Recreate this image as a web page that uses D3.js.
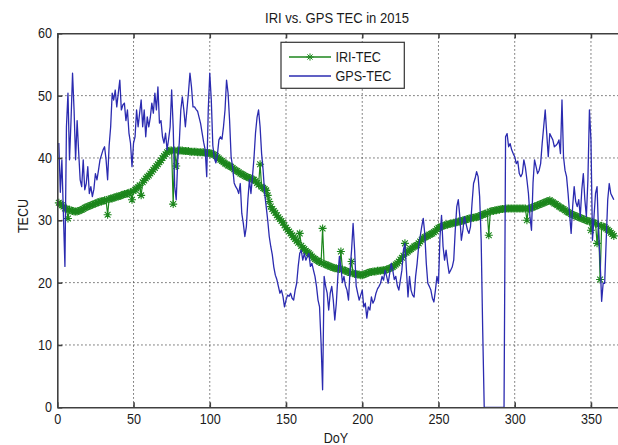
<!DOCTYPE html>
<html lang="en">
    <head>
        <meta charset="utf-8">
        <script type="text/javascript" src="https://cdn.jsdelivr.net/npm/d3@7"></script>
        <style type="text/css">
            body {
              margin: 0;
              background: #ffffff;
            }

            text {
              font-family: "Liberation Sans", Arial, sans-serif;
              fill: #1a1a1a;
            }

            .axis path,
            .axis line {
              stroke: #404040;
              stroke-width: 1.6;
            }

            .grid line {
              stroke: #4a4a4a;
              stroke-width: 1;
              stroke-dasharray: 1.3, 2.7;
            }
        </style>
    </head>
    <body>
        <script type="text/javascript">
            // day of year 1 .. 365
            var doy = d3.range(1, 366);

            // IRI modelled TEC per day
            var iriTec = [
              32.8, 32.6, 32.4, 32.2, 31.9, 31.9, 30.3, 31.7, 31.6, 31.5,
              31.4, 31.4, 31.4, 31.5, 31.6, 31.7, 31.8, 32.0, 32.1, 32.2,
              32.3, 32.4, 32.5, 32.6, 32.7, 32.8, 32.9, 33.0, 33.0, 33.1,
              33.2, 33.2, 30.9, 33.4, 33.5, 33.5, 33.6, 33.7, 33.8, 33.8,
              33.9, 34.0, 34.1, 34.2, 34.2, 34.3, 34.4, 34.5, 33.3, 34.7,
              34.9, 35.1, 35.3, 35.6, 34.0, 36.1, 36.4, 36.7, 37.0, 37.2,
              37.5, 37.8, 38.1, 38.4, 38.7, 39.0, 39.3, 39.6, 40.0, 40.3,
              40.6, 40.9, 41.1, 41.2, 41.2, 32.6, 41.2, 38.7, 41.2, 41.2,
              41.2, 41.2, 41.1, 41.1, 41.1, 41.1, 41.0, 41.0, 41.0, 41.0,
              41.0, 40.9, 40.9, 40.9, 40.9, 40.9, 40.8, 40.8, 40.8, 40.8,
              40.7, 40.6, 40.5, 40.3, 40.1, 39.9, 39.7, 39.5, 39.3, 39.1,
              39.0, 38.8, 38.7, 38.6, 38.4, 38.2, 38.0, 37.9, 37.7, 37.5,
              37.4, 37.3, 37.1, 37.0, 36.9, 36.8, 36.7, 36.6, 36.5, 36.3,
              36.0, 35.7, 39.0, 35.4, 35.2, 35.0, 34.8, 34.0, 33.0, 32.2,
              31.8, 31.5, 31.2, 30.8, 30.5, 30.2, 29.9, 29.6, 29.2, 28.8,
              28.5, 28.2, 27.9, 27.6, 27.3, 27.0, 26.7, 26.4, 27.9, 25.9,
              25.6, 25.4, 25.1, 24.9, 24.7, 24.5, 24.2, 24.0, 23.8, 23.6,
              23.5, 23.3, 23.2, 28.7, 23.0, 22.9, 22.8, 22.7, 22.6, 22.5,
              22.4, 22.3, 22.3, 22.2, 22.2, 25.0, 22.1, 22.0, 21.9, 21.8,
              21.7, 21.6, 23.4, 21.5, 21.4, 21.4, 21.3, 21.3, 21.2, 21.2,
              21.3, 21.4, 21.5, 21.6, 21.7, 21.7, 21.8, 21.8, 21.8, 21.9,
              21.9, 21.9, 22.0, 22.0, 22.0, 22.1, 22.2, 22.3, 22.4, 22.5,
              22.7, 22.9, 23.1, 23.4, 23.7, 24.0, 24.3, 26.3, 24.8, 25.0,
              25.2, 25.4, 25.6, 25.8, 25.9, 26.0, 26.3, 26.6, 26.9, 27.1,
              27.3, 27.4, 27.5, 27.7, 27.8, 27.9, 28.1, 28.3, 28.6, 28.8,
              28.9, 29.0, 29.1, 29.2, 29.3, 29.3, 29.4, 29.5, 29.5, 29.6,
              29.6, 29.7, 29.8, 29.8, 29.9, 30.0, 30.0, 30.1, 30.2, 30.3,
              30.3, 30.4, 30.4, 30.5, 30.5, 30.6, 30.7, 30.8, 30.9, 31.0,
              31.1, 31.2, 27.6, 31.4, 31.5, 31.5, 31.6, 31.6, 31.7, 31.7,
              31.8, 31.8, 31.8, 31.9, 31.9, 31.9, 31.9, 31.9, 31.9, 31.9,
              31.9, 31.9, 31.9, 31.9, 31.9, 31.9, 31.9, 30.0, 31.9, 31.9,
              32.0, 32.1, 32.2, 32.3, 32.4, 32.5, 32.6, 32.7, 32.8, 32.9,
              33.0, 33.1, 33.2, 33.0, 32.9, 32.7, 32.6, 32.4, 32.2, 32.1,
              31.9, 31.8, 31.6, 31.4, 31.3, 31.2, 31.0, 30.9, 30.8, 30.7,
              30.6, 30.5, 30.4, 30.3, 30.2, 30.1, 30.0, 29.9, 29.8, 28.4,
              29.7, 29.6, 29.5, 26.3, 29.3, 20.5, 29.1, 29.0, 28.9, 28.7,
              28.5, 28.3, 28.0, 27.8, 27.5
            ];

            // GPS measured TEC per day
            var gpsTec = [
              42.4, 34.5, 39.7, 31.0, 22.6, 45.0, 50.4, 39.7, 46.0, 53.6,
              47.7, 39.7, 46.0, 41.0, 36.5, 35.4, 39.7, 34.9, 35.9, 38.6,
              34.3, 35.4, 33.8, 35.0, 37.5, 36.5, 38.0, 39.7, 40.5, 41.3,
              41.8, 39.7, 36.5, 42.0, 45.0, 50.4, 49.3, 50.9, 48.2, 50.4,
              52.5, 47.7, 48.5, 48.8, 46.0, 47.7, 44.0, 42.4, 38.6, 42.4,
              43.4, 47.7, 45.0, 47.2, 49.3, 45.0, 47.7, 43.4, 46.6, 45.0,
              46.5, 48.8, 47.2, 50.4, 47.7, 51.4, 45.6, 46.0, 43.4, 42.4,
              44.0, 41.3, 43.0, 45.0, 50.9, 45.0, 35.4, 33.3, 39.7, 42.4,
              47.7, 49.8, 47.7, 45.0, 47.7, 50.4, 53.6, 51.4, 48.2, 48.2,
              47.8, 47.5, 46.5, 45.5, 44.0, 42.5, 41.3, 37.0, 47.7, 53.6,
              49.3, 42.0, 40.0, 39.2, 40.5, 42.9, 43.4, 43.0, 45.0, 47.7,
              52.5, 50.4, 46.0, 40.2, 38.5, 36.0, 35.4, 35.0, 34.3, 35.9,
              31.1, 29.5, 27.4, 29.0, 33.3, 36.5, 34.3, 37.0, 40.0, 44.0,
              46.5, 47.7, 45.0, 40.7, 38.0, 34.3, 32.2, 30.0, 27.4, 25.8,
              24.5, 22.5, 21.2, 20.5, 19.4, 18.3, 18.8, 17.8, 16.1, 17.2,
              18.0, 17.8, 18.3, 17.5, 17.2, 18.8, 19.9, 22.6, 24.7, 25.2,
              23.6, 24.7, 23.6, 24.2, 24.7, 22.6, 23.1, 22.0, 21.0, 19.4,
              17.2, 16.1, 10.3, 2.8, 21.0, 19.4, 18.3, 15.6, 18.3, 19.4,
              17.2, 14.0, 16.7, 21.0, 24.2, 22.5, 20.0, 21.0, 19.5, 18.8,
              17.2, 22.0, 25.2, 29.5, 25.2, 19.5, 18.3, 17.2, 18.0, 18.8,
              16.1, 16.7, 14.3, 16.1, 15.6, 17.7, 16.7, 17.2, 18.3, 19.0,
              19.4, 19.9, 21.0, 20.4, 22.0, 21.0, 19.9, 21.5, 23.1, 22.0,
              20.5, 21.0, 19.5, 18.8, 20.4, 22.0, 25.2, 26.3, 22.0, 17.7,
              21.0, 18.8, 18.0, 17.7, 21.0, 23.1, 25.8, 27.4, 29.0, 30.3,
              27.9, 23.1, 19.9, 19.4, 18.8, 17.5, 16.9, 18.8, 21.0, 19.9,
              27.4, 30.8, 25.8, 23.6, 25.2, 23.1, 21.5, 22.0, 22.5, 23.6,
              28.4, 32.2, 33.3, 30.6, 26.8, 28.4, 30.6, 29.5, 28.5, 27.9,
              29.0, 32.7, 35.9, 36.7, 37.8, 37.0, 33.8, 26.8, 12.4, 0.0,
              0.0, 0.0, 0.0, 0.0, 0.0, 0.0, 0.0, 0.0, 0.0, 0.0,
              0.0, 0.0, 0.0, 43.4, 43.9, 41.8, 42.3, 41.3, 40.7, 40.2,
              39.1, 39.5, 37.5, 37.0, 37.5, 39.7, 38.5, 36.5, 34.3, 30.6,
              28.4, 36.0, 39.7, 38.6, 37.5, 38.0, 39.1, 42.3, 45.0, 47.7,
              43.9, 40.2, 43.9, 43.4, 42.9, 41.8, 42.0, 42.3, 42.9, 40.7,
              49.3, 40.2, 38.0, 37.0, 34.3, 31.0, 27.9, 32.2, 35.4, 33.0,
              32.2, 33.3, 30.6, 34.9, 37.5, 33.3, 30.6, 36.5, 47.7, 42.9,
              26.8, 30.6, 34.3, 35.4, 27.9, 23.6, 17.0, 19.9, 19.9, 26.8,
              33.3, 35.9, 34.3, 33.8, 33.3
            ];

            var xTicks = [0, 50, 100, 150, 200, 250, 300, 350];
            var yTicks = [0, 10, 20, 30, 40, 50, 60];
            var seriesNames = ["IRI-TEC", "GPS-TEC"];
            var seriesColors = ["#1c861c", "#2b2bb0"];

            var w = 618, h = 445;
            var textScale = 0.9;

            // scales, right edge of the box falls just outside the picture
            var x = d3.scaleLinear().domain([0, 368]).range([57.3, 618.4]);
            var y = d3.scaleLinear().domain([0, 60]).range([407.3, 33.3]);

            var svg = d3.select("body")
              .append("svg")
              .attr("width", w)
              .attr("height", h);

            // helper for the slightly narrow matlab text
            function label(px, py, str, anchor, size, rot) {
              return svg.append("text")
                .attr("transform", "translate(" + px + "," + py + ")" +
                  (rot ? " rotate(" + rot + ")" : "") + " scale(" + textScale + ",1)")
                .attr("text-anchor", anchor)
                .attr("font-size", size)
                .text(str);
            }

            // dotted grid
            svg.append("g")
              .attr("class", "grid")
              .selectAll("line.v")
              .data(xTicks.filter(function(d) { return d > 0; }))
              .enter()
              .append("line")
              .attr("x1", function(d) { return x(d); })
              .attr("x2", function(d) { return x(d); })
              .attr("y1", y(60))
              .attr("y2", y(0));

            svg.select(".grid")
              .selectAll("line.h")
              .data(yTicks.filter(function(d) { return d > 0 && d < 60; }))
              .enter()
              .append("line")
              .attr("x1", x(0))
              .attr("x2", w)
              .attr("y1", function(d) { return y(d); })
              .attr("y2", function(d) { return y(d); });

            var line = d3.line()
              .x(function(d, i) { return x(doy[i]); })
              .y(function(d) { return y(d); });

            // asterisk marker path
            function star(s) {
              var a = s * 0.72;
              return "M" + (-s) + ",0L" + s + ",0M0," + (-s) + "L0," + s +
                "M" + (-a) + "," + (-a) + "L" + a + "," + a +
                "M" + (-a) + "," + a + "L" + a + "," + (-a);
            }

            // IRI line with markers
            svg.append("path")
              .datum(iriTec)
              .attr("fill", "none")
              .attr("stroke", seriesColors[0])
              .attr("stroke-width", 1.2)
              .attr("d", line);

            svg.append("g")
              .selectAll("path")
              .data(iriTec)
              .enter()
              .append("path")
              .attr("transform", function(d, i) {
                return "translate(" + x(doy[i]) + "," + y(d) + ")";
              })
              .attr("d", star(4))
              .attr("fill", "none")
              .attr("stroke", seriesColors[0])
              .attr("stroke-width", 1.1);

            // GPS line on top
            svg.append("path")
              .datum(gpsTec)
              .attr("fill", "none")
              .attr("stroke", seriesColors[1])
              .attr("stroke-width", 1.3)
              .attr("stroke-linejoin", "round")
              .attr("d", line);

            // axes with inward ticks
            var xAxis = svg.append("g")
              .attr("class", "axis")
              .attr("transform", "translate(0," + y(0) + ")")
              .call(d3.axisBottom(x).tickValues(xTicks).tickSizeInner(-5).tickSizeOuter(0).tickPadding(7));

            var topAxis = svg.append("g")
              .attr("class", "axis")
              .attr("transform", "translate(0," + y(60) + ")")
              .call(d3.axisTop(x).tickValues(xTicks).tickSizeInner(-5).tickSizeOuter(0).tickFormat(""));

            var yAxis = svg.append("g")
              .attr("class", "axis")
              .attr("transform", "translate(" + x(0) + ",0)")
              .call(d3.axisLeft(y).tickValues(yTicks).tickSizeInner(-5).tickSizeOuter(0).tickPadding(5));

            svg.selectAll(".axis text")
              .attr("font-size", 14)
              .attr("fill", "#1a1a1a")
              .attr("font-family", "Liberation Sans, Arial, sans-serif")
              .attr("transform", "scale(" + textScale + ",1)");
            yAxis.selectAll("text").attr("x", -5.3 / textScale);

            // title and axis labels
            label(337, 23, "IRI vs. GPS TEC in 2015", "middle", 14.5);
            label(336, 443, "DoY", "middle", 14);
            label(28, 216, "TECU", "middle", 14, -90);

            // legend
            var legend = svg.append("g");
            legend.append("rect")
              .attr("x", 281)
              .attr("y", 42.3)
              .attr("width", 123.3)
              .attr("height", 46)
              .attr("fill", "#ffffff")
              .attr("stroke", "#333333")
              .attr("stroke-width", 1.2);

            var rows = [57, 76];
            seriesNames.forEach(function(name, i) {
              legend.append("line")
                .attr("x1", 289).attr("x2", 331)
                .attr("y1", rows[i]).attr("y2", rows[i])
                .attr("stroke", seriesColors[i])
                .attr("stroke-width", 1.3);
              label(335.5, rows[i] + 5, name, "start", 14);
            });
            legend.append("path")
              .attr("transform", "translate(310," + rows[0] + ")")
              .attr("d", star(3.6))
              .attr("fill", "none")
              .attr("stroke", seriesColors[0])
              .attr("stroke-width", 1);
        </script>
    </body>
</html>
